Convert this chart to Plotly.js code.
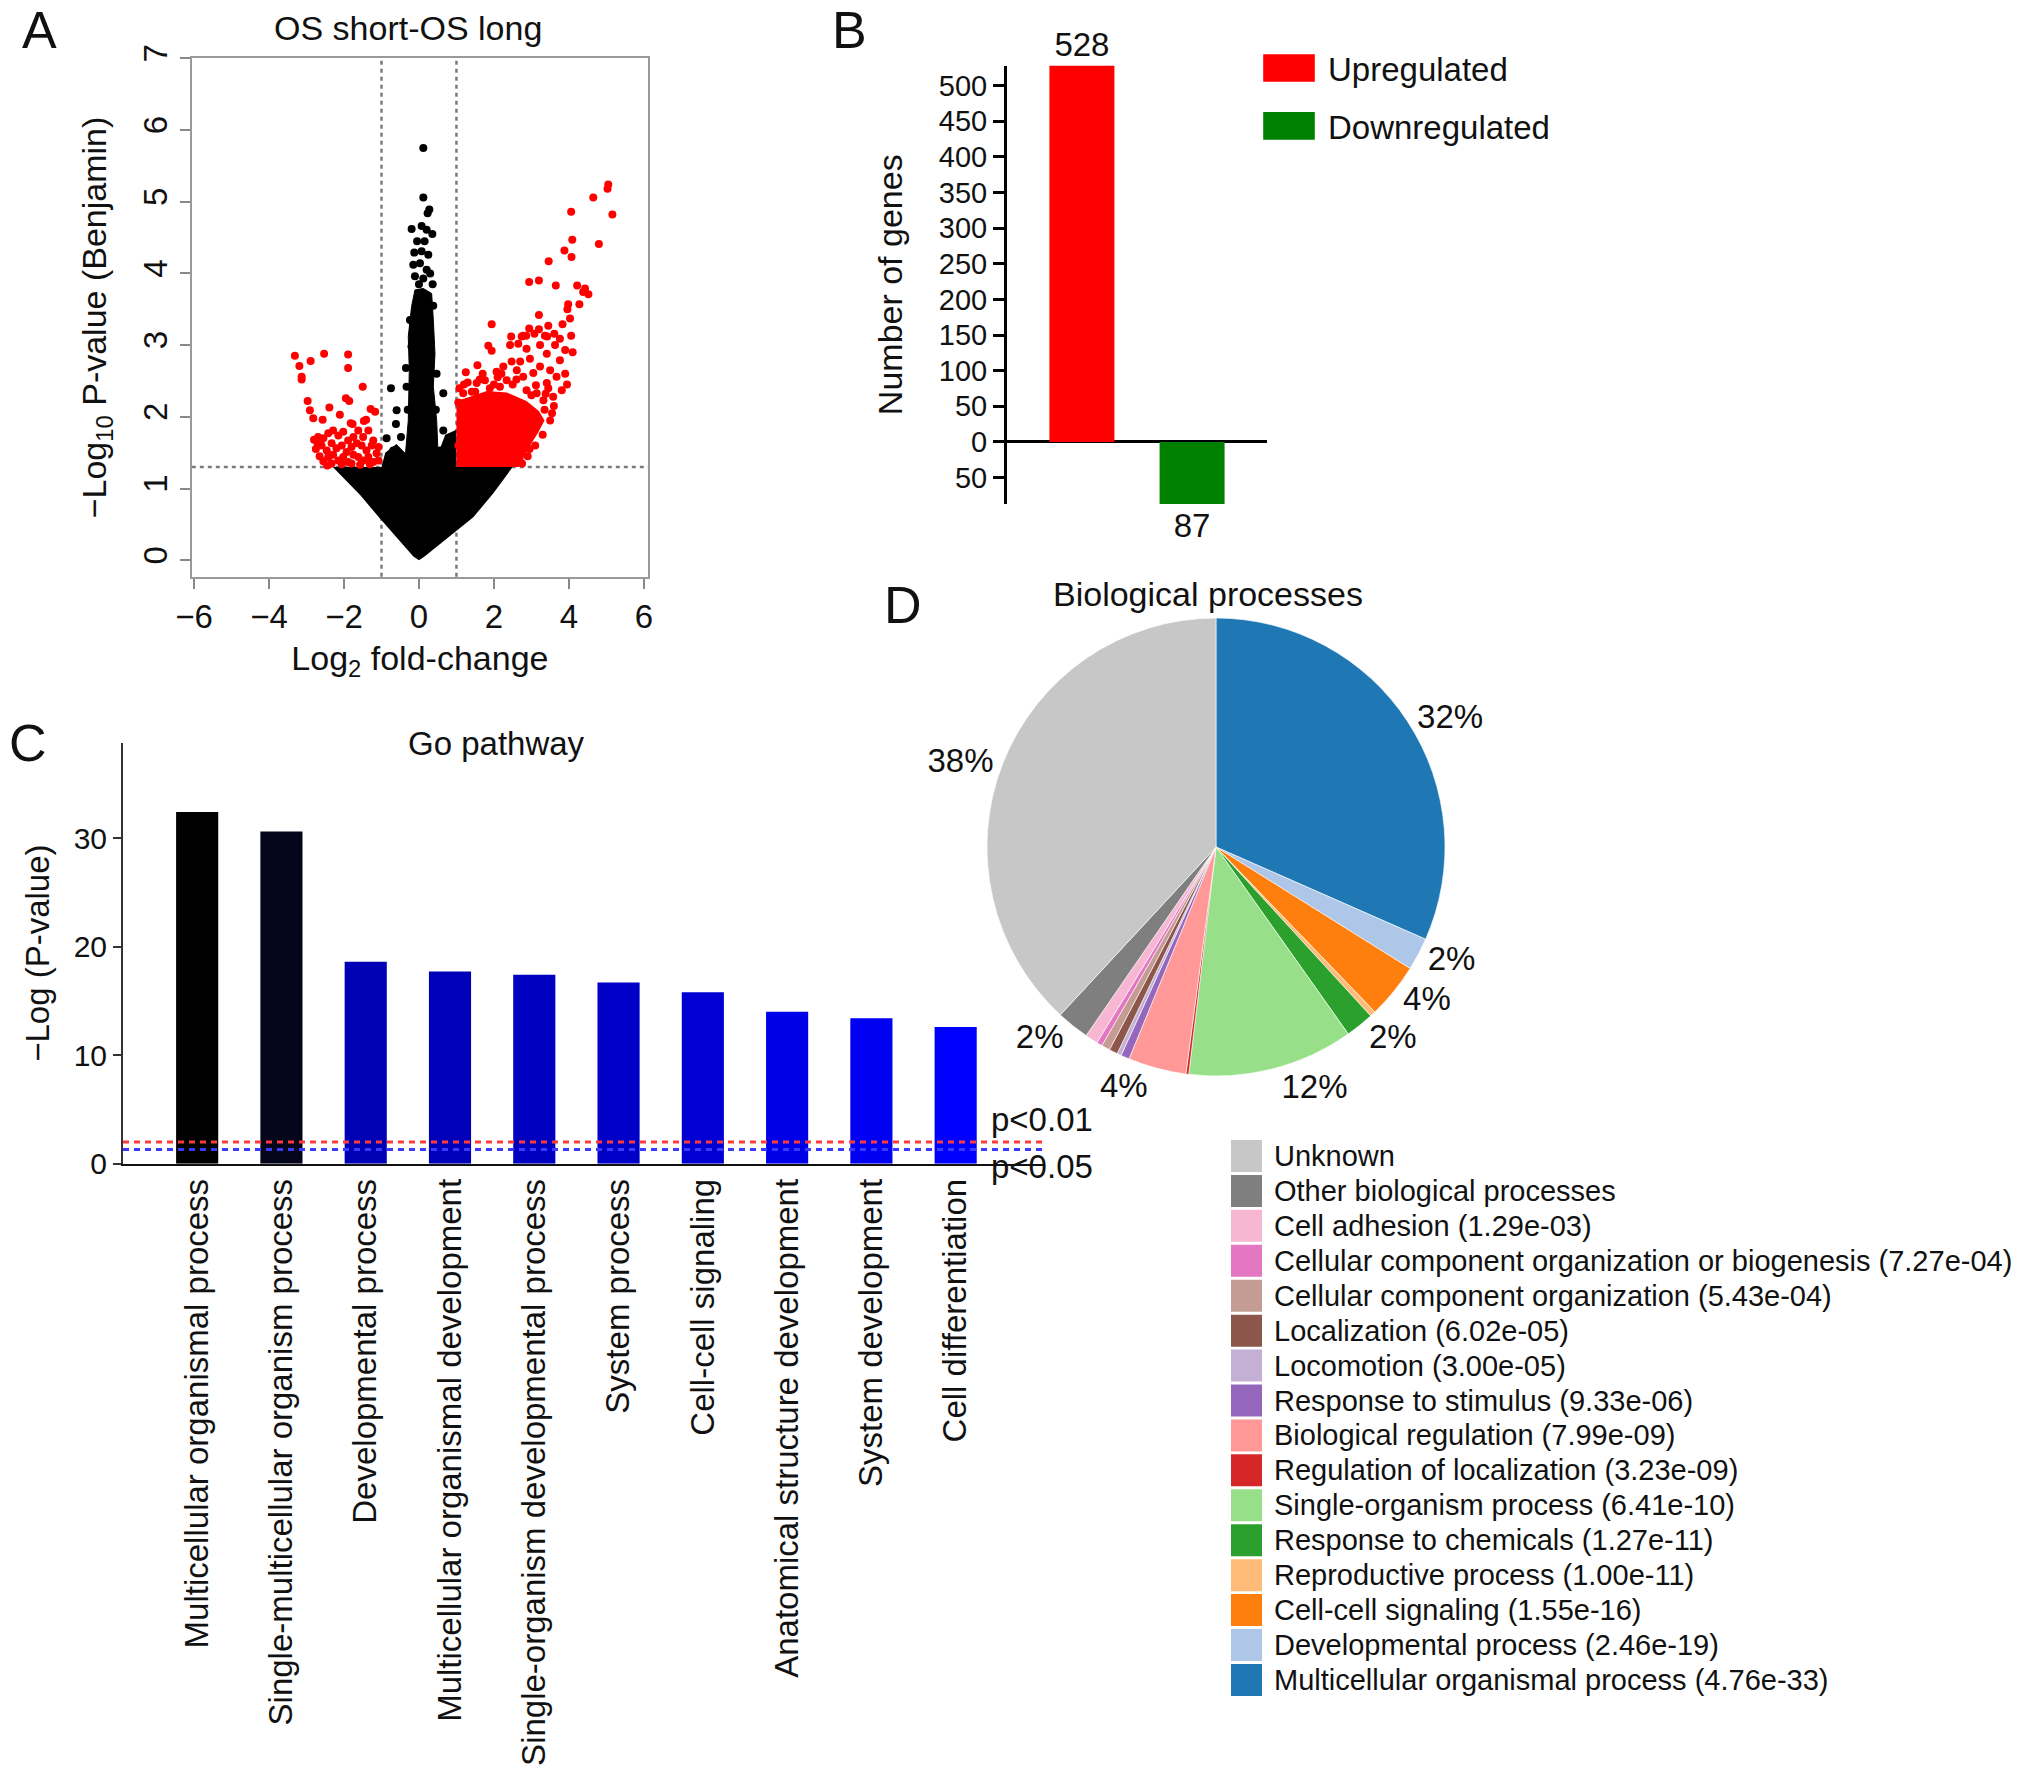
<!DOCTYPE html>
<html><head><meta charset="utf-8">
<script src="https://cdn.plot.ly/plotly-3.0.1.min.js"></script>
<style>html,body{margin:0;padding:0;background:#fff}#chart{width:2032px;height:1785px}</style>
</head><body><div id="chart"></div>
<script>
const W = 2032, H = 1785;
const fx = p => p / W, fy = p => 1 - p / H;

// ---------- Panel A: volcano ----------
const volcanoThresholdX = [-1, 1];
const volcanoThresholdY = [1.3];
const upX = [5.05,5.03,4.65,5.16,4.06,4.09,4.80,3.88,4.07,3.46,2.94,3.20,3.65,4.22,4.43,4.38,4.52,3.98,3.96,4.28,3.20,4.03,3.83,3.45,1.94,2.94,3.20,3.61,2.46,2.74,2.86,3.36,4.06,3.76,2.78,3.08,3.42,1.85,1.94,1.25,1.56,2.43,2.65,2.87,3.23,3.41,3.63,3.76,3.90,2.96,2.70,2.47,2.25,2.07,1.76,1.54,1.41,1.18,3.23,3.50,3.67,3.41,3.05,2.78,2.61,2.34,2.16,1.89,3.81,3.58,3.32,3.14,2.87,1.05,1.10,1.05,1.20,1.50,2.00,2.50,3.00,3.35,3.50,3.30,3.10,2.90,2.75,3.60,3.45,2.20,1.70,3.90,4.10,3.95,1.08,1.30,1.62,2.10,2.60,3.12,3.38,3.55,2.95,2.68];
const upY = [5.24,5.18,5.06,4.82,4.86,4.47,4.41,4.32,4.23,4.17,3.88,3.90,3.83,3.83,3.79,3.74,3.71,3.57,3.50,3.57,3.42,3.37,3.29,3.27,3.29,3.23,3.22,3.16,3.12,3.12,3.13,3.13,3.13,3.09,3.13,3.16,3.12,2.99,2.92,2.62,2.72,3.00,3.02,2.95,3.00,2.88,3.00,2.79,2.93,2.81,2.77,2.77,2.70,2.63,2.51,2.47,2.35,2.33,2.70,2.65,2.56,2.47,2.61,2.56,2.65,2.51,2.42,2.40,2.37,2.28,2.23,2.33,2.37,2.20,1.90,1.60,2.45,2.35,2.45,2.45,2.30,2.10,1.95,1.75,1.60,1.45,1.35,2.15,2.40,2.60,2.60,2.60,2.90,2.45,2.40,2.48,2.52,2.55,2.52,2.44,2.32,2.05,1.55,1.42];
const downX = [-3.31,-2.53,-1.89,-3.19,-2.89,-3.13,-3.13,-1.89,-1.50,-2.97,-1.95,-1.86,-2.39,-2.91,-2.82,-2.57,-2.11,-1.17,-1.82,-1.47,-2.69,-2.55,-2.42,-2.29,-2.15,-2.02,-1.89,-1.75,-1.62,-1.49,-1.35,-1.22,-1.08,-2.60,-2.46,-2.33,-2.20,-2.06,-1.93,-1.80,-1.66,-1.53,-1.40,-1.26,-1.13,-2.42,-2.29,-2.15,-2.02,-1.89,-1.75,-1.62,-1.49,-1.35,-1.22,-1.08,-2.33,-2.06,-1.80,-1.57,-1.31,-2.80,-2.75,-2.65,-2.55,-2.45,-2.70,-1.29,-1.77,-1.41];
const downY = [2.85,2.88,2.87,2.71,2.78,2.56,2.52,2.68,2.42,2.22,2.26,2.22,2.13,2.09,1.98,1.96,2.03,2.07,1.91,1.94,1.72,1.70,1.77,1.81,1.74,1.79,1.67,1.72,1.81,1.72,1.81,1.67,1.58,1.60,1.53,1.63,1.56,1.60,1.51,1.58,1.63,1.60,1.53,1.60,1.49,1.44,1.47,1.39,1.44,1.37,1.47,1.44,1.39,1.44,1.37,1.39,1.35,1.34,1.35,1.33,1.34,1.68,1.55,1.45,1.38,1.32,1.62,2.11,1.90,1.96];
const otherX = [0.116,0.116,0.276,0.231,-0.196,0.071,0.205,0.356,-0.125,0.071,0.249,-0.151,0.027,0.205,-0.107,0.116,0.365,-0.747,0.649,-0.614,-0.347,-0.48,-0.596,-0.863,0.649,0.827,0.56,-0.685,-0.24,0.38,-0.2,0.29,-0.33,0.47,0.0,-0.3,0.45,-0.05,0.15,0.3];
const otherY = [5.75,5.06,4.89,4.84,4.62,4.66,4.61,4.55,4.29,4.31,4.26,4.12,4.14,4.05,3.96,3.93,3.85,2.40,2.33,1.90,2.68,1.72,2.09,1.70,1.81,1.67,1.53,1.53,3.35,3.55,2.98,3.12,2.42,2.60,3.85,2.10,2.10,4.45,4.45,4.00];
const denseBlackX = [0,-0.15,-1.04,-1.57,-2.30,-1.00,-0.90,-0.60,-0.37,0.52,0.70,1.00,1.00,2.50,1.98,1.45,0.15,0];
const denseBlackY = [0,0.05,0.58,0.91,1.30,1.30,1.50,1.62,1.50,1.50,1.75,1.82,1.30,1.30,0.93,0.60,0.05,0];
const spikeX = [-0.374,-0.285,-0.258,-0.285,-0.196,-0.107,0.116,0.338,0.383,0.427,0.383,0.472,0.516];
const spikeY = [1.39,1.95,2.65,3.12,3.54,3.77,3.79,3.72,3.35,2.88,2.42,1.95,1.39];
const redCoreX = [1.0,1.0,1.36,1.81,2.34,2.87,3.20,3.35,3.18,2.92,2.66];
const redCoreY = [1.3,2.22,2.28,2.36,2.34,2.22,2.08,1.95,1.78,1.56,1.30];

// ---------- Panel B ----------
const degCategories = ['Upregulated', 'Downregulated'];
const degCounts = [528, -87];
const degColors = ['#ff0000', '#008000'];
const degTickVals = [-50,0,50,100,150,200,250,300,350,400,450,500];

// ---------- Panel C ----------
const goTerms = ['Multicellular organismal process','Single-multicellular organism process','Developmental process','Multicellular organismal development','Single-organism developmental process','System process','Cell-cell signaling','Anatomical structure development','System development','Cell differentiation'];
const goValues = [32.4,30.6,18.6,17.7,17.4,16.7,15.8,14.0,13.4,12.6];
const goColors = ['#000000','#05051c','#0000b4','#0000ba','#0000c0','#0000c8','#0000d2','#0000e8','#0000f2','#0000ff'];
const pThresholds = [2, 1.3];
const pLabels = ['p<0.01', 'p<0.05'];
const pColors = ['#ff3b3b', '#3b3bff'];

// ---------- Panel D ----------
const bpLabels = ['Multicellular organismal process','Developmental process','Cell-cell signaling','Reproductive process','Response to chemicals','Single-organism process','Regulation of localization','Biological regulation','Response to stimulus','Locomotion','Localization','Cellular component organization','Cellular component organization or biogenesis','Cell adhesion','Other biological processes','Unknown'];
const bpPvals = ['4.76e-33','2.46e-19','1.55e-16','1.00e-11','1.27e-11','6.41e-10','3.23e-09','7.99e-09','9.33e-06','3.00e-05','6.02e-05','5.43e-04','7.27e-04','1.29e-03','',''];
const bpValues = [31.6,2.3,3.9,0.4,2.0,11.7,0.2,4.1,0.6,0.3,0.6,0.6,0.4,0.9,2.3,38.1];
const bpColors = ['#1f77b4','#aec7e8','#ff7f0e','#ffbb78','#2ca02c','#98df8a','#d62728','#ff9896','#9467bd','#c5b0d5','#8c564b','#c49c94','#e377c2','#f7b6d2','#7f7f7f','#c7c7c7'];

const FONT = 'Liberation Sans, Arial, sans-serif';
const total = bpValues.reduce((a,b)=>a+b,0);
const bpText = bpValues.map(v => (v/total*100 >= 1.9) ? Math.round(v/total*100) + '%' : '');
const bpTextPos = bpText.map(t => t ? 'outside' : 'none');

const traces = [
  {type:'scatter', mode:'lines', x:denseBlackX, y:denseBlackY, fill:'toself', fillcolor:'#000', line:{width:0,color:'#000'}, xaxis:'x', yaxis:'y', showlegend:false, hoverinfo:'skip'},
  {type:'scatter', mode:'lines', x:spikeX, y:spikeY, fill:'toself', fillcolor:'#000', line:{width:1,color:'#000'}, xaxis:'x', yaxis:'y', showlegend:false, hoverinfo:'skip'},
  {type:'scatter', mode:'markers', x:otherX, y:otherY, marker:{color:'#000', size:8}, xaxis:'x', yaxis:'y', showlegend:false},
  {type:'scatter', mode:'lines', x:redCoreX, y:redCoreY, fill:'toself', fillcolor:'#ff0000', line:{width:0,color:'#ff0000'}, xaxis:'x', yaxis:'y', showlegend:false, hoverinfo:'skip'},
  {type:'scatter', mode:'markers', x:upX, y:upY, marker:{color:'#ff0000', size:8}, xaxis:'x', yaxis:'y', showlegend:false},
  {type:'scatter', mode:'markers', x:downX, y:downY, marker:{color:'#ff0000', size:8}, xaxis:'x', yaxis:'y', showlegend:false}
];
degCategories.forEach((c,i) => traces.push({
  type:'bar', x:[c], y:[degCounts[i]], name:c, legendgroup:c, marker:{color:degColors[i]}, width:0.59,
  text:[String(Math.abs(degCounts[i]))], textposition:'outside', cliponaxis:false,
  textfont:{size:33, color:'#111', family:FONT}, xaxis:'x2', yaxis:'y2'
}));
traces.push({type:'bar', x:goTerms, y:goValues, marker:{color:goColors}, width:0.5, xaxis:'x3', yaxis:'y3', showlegend:false});
traces.push({type:'pie', labels:bpLabels, values:bpValues, sort:false, direction:'clockwise', rotation:0,
  marker:{colors:bpColors, line:{color:'#ffffff', width:0.6}}, text:bpText, texttemplate:'%{text}', textposition:bpTextPos,
  outsidetextfont:{size:33, color:'#111', family:FONT}, showlegend:false,
  domain:{x:[fx(987), fx(1445)], y:[fy(1076), fy(618)]}});

const shapes = [];
volcanoThresholdX.forEach(v => shapes.push({type:'line', xref:'x', yref:'y domain', x0:v, x1:v, y0:0, y1:1, layer:'below', line:{color:'#7a7a7a', width:2.5, dash:'4px,4px'}}));
volcanoThresholdY.forEach(v => shapes.push({type:'line', xref:'x domain', yref:'y', x0:0, x1:1, y0:v, y1:v, layer:'below', line:{color:'#7a7a7a', width:2.5, dash:'4px,4px'}}));
pThresholds.forEach((v,i) => shapes.push({type:'line', xref:'x3 domain', yref:'y3', x0:0, x1:1, y0:v, y1:v, layer:'above', line:{color:pColors[i], width:3, dash:'6px,5px'}}));

const annotations = [
  {text:'A', x:fx(39), y:fy(30), size:52},
  {text:'B', x:fx(849), y:fy(30), size:52},
  {text:'C', x:fx(28), y:fy(743), size:52},
  {text:'D', x:fx(903), y:fy(605), size:52},
  {text:'OS short-OS long', x:fx(408), y:fy(28), size:34},
  {text:'Go pathway', x:fx(496), y:fy(743), size:33},
  {text:'Biological processes', x:fx(1208), y:fy(594), size:34}
].map(a => ({text:a.text, x:a.x, y:a.y, xref:'paper', yref:'paper', showarrow:false, xanchor:'center', yanchor:'middle', font:{size:a.size, color:'#111', family:FONT}}));
pThresholds.forEach((v,i) => annotations.push({text:pLabels[i], xref:'x3', yref:'y3', x:9.40, y:v, xanchor:'left', yanchor:'middle', yshift: i===0 ? 22 : -17, showarrow:false, font:{size:33, color:'#111', family:FONT}}));

// Panel D legend (reverse of pie order)
const legTop = 1156, legStep = 34.93;
bpLabels.slice().reverse().forEach((lab, k) => {
  const i = bpLabels.length - 1 - k;
  const yc = legTop + k*legStep;
  shapes.push({type:'rect', xref:'paper', yref:'paper', x0:fx(1231), x1:fx(1262), y0:fy(yc+16), y1:fy(yc-16), fillcolor:bpColors[i], line:{width:0}});
  annotations.push({text: lab + (bpPvals[i] ? ' (' + bpPvals[i] + ')' : ''), xref:'paper', yref:'paper', x:fx(1272), y:fy(yc), xanchor:'left', yanchor:'middle', showarrow:false, font:{size:29, color:'#111', family:FONT}});
});

const layout = {
  width:W, height:H, margin:{l:0,r:0,t:0,b:0}, paper_bgcolor:'#fff', plot_bgcolor:'rgba(0,0,0,0)',
  font:{family:FONT, color:'#111', size:28}, barmode:'overlay', hovermode:false,
  xaxis:{domain:[fx(191.8), fx(648)], range:[-6.06, 6.11], tickvals:[-6,-4,-2,0,2,4,6], ticks:'outside', ticklen:10, tickwidth:2, tickcolor:'#888',
    showline:true, mirror:true, linecolor:'#999', linewidth:2, showgrid:false, zeroline:false, tickfont:{size:33},
    title:{text:'Log<sub>2</sub> fold-change', font:{size:34}, standoff:12}, anchor:'y'},
  yaxis:{domain:[fy(576.7), fy(58.3)], range:[-0.23, 7.0], tickvals:[0,1,2,3,4,5,6,7], tickangle:-90, ticks:'outside', ticklen:10, tickwidth:2, tickcolor:'#888',
    showline:true, mirror:true, linecolor:'#999', linewidth:2, showgrid:false, zeroline:false, tickfont:{size:33},
    title:{text:'\u2212Log<sub>10</sub> P-value (Benjamin)', font:{size:34}, standoff:20}, anchor:'x'},
  xaxis2:{domain:[fx(1007), fx(1267)], range:[-0.68, 1.68], type:'category', showticklabels:false, ticks:'', showline:false, showgrid:false, zeroline:false, anchor:'y2'},
  yaxis2:{domain:[fy(504), fy(65.5)], range:[-87, 528], tickvals:degTickVals, ticktext:degTickVals.map(v=>String(Math.abs(v))),
    ticks:'outside', ticklen:11, tickwidth:3, tickcolor:'#000', showline:true, linecolor:'#000', linewidth:3, showgrid:false,
    zeroline:true, zerolinecolor:'#000', zerolinewidth:3, tickfont:{size:29}, title:{text:'Number of genes', font:{size:34}, standoff:26}, anchor:'x2'},
  xaxis3:{domain:[fx(123), fx(1045)], range:[-0.88, 10.06], type:'category', tickangle:-90, ticks:'', showline:true, linecolor:'#111', linewidth:2,
    showgrid:false, zeroline:false, tickfont:{size:33}, anchor:'y3'},
  yaxis3:{domain:[fy(1163.7), fy(742.6)], range:[0, 38.8], tickvals:[0,10,20,30], ticks:'outside', ticklen:8, tickwidth:2, tickcolor:'#333',
    showline:true, linecolor:'#333', linewidth:2, showgrid:false, zeroline:false, tickfont:{size:30},
    title:{text:'\u2212Log (P-value)', font:{size:33}, standoff:14}, anchor:'x3'},
  legend:{x:fx(1250), y:fy(40), xanchor:'left', yanchor:'top', font:{size:33}, tracegroupgap:12, itemwidth:68, bgcolor:'rgba(0,0,0,0)'},
  shapes:shapes, annotations:annotations
};

Plotly.newPlot('chart', traces, layout, {staticPlot:true}).then(() => {
  document.querySelectorAll('.legend .legendpoints path').forEach(p => {
    const t = p.getAttribute('transform') || '';
    p.setAttribute('transform', t + ' scale(4.3,2.3)');
  });
});
</script></body></html>
